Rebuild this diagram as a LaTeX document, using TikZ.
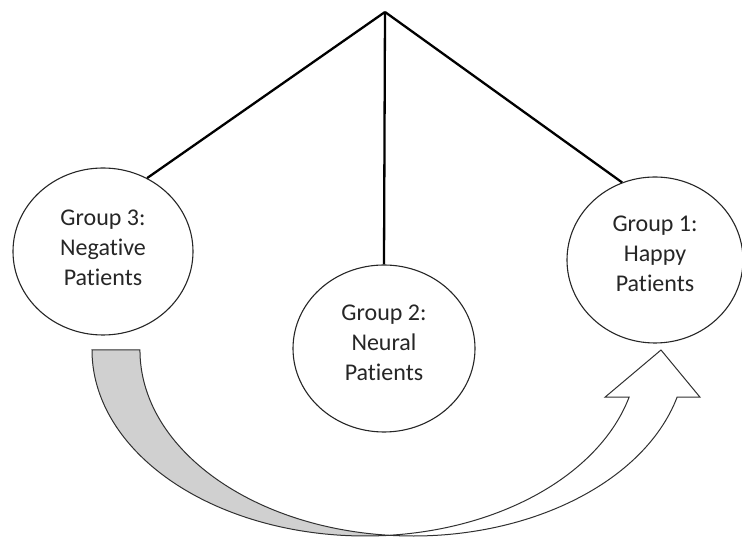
\documentclass[tikz,border=0pt]{standalone}
\usepackage{fontspec}
\setmainfont{Carlito}[Ligatures=NoCommon]
\usetikzlibrary{shapes.geometric}
\definecolor{bandgray}{HTML}{D0D0D0}
\definecolor{edge}{HTML}{303030}
\begin{document}
\begin{tikzpicture}[x=1pt,y=1pt,
  grp/.style={ellipse, draw=black!85, line width=1.1pt, fill=white, inner sep=0pt},
  lbl/.style={font=\fontsize{24}{30}\selectfont, align=center, text=black!85},
  stem/.style={line width=2.3pt, black},
  band/.style={draw=edge, line width=1pt, line join=miter}]
\useasboundingbox (0,0) rectangle (742,538);
\coordinate (apex) at (385,526);
\node[grp, minimum width=180pt, minimum height=167pt,
  label={[lbl,yshift=4pt]center:{Group 3:\\Negative\\Patients}}] (g3) at (103,286.5) {};
\node[grp, minimum width=182pt, minimum height=167pt,
  label={[lbl,yshift=6pt]center:{Group 2:\\Neural\\Patients}}] (g2) at (384,189.5) {};
\node[grp, minimum width=176pt, minimum height=166pt,
  label={[lbl,yshift=6pt]center:{Group 1:\\Happy\\Patients}}] (g1) at (655,278) {};
\draw[stem] (apex) -- (g3.59);
\draw[stem] (apex) -- (g2.north);
\draw[stem] (apex) -- (g1.113);
% curved up arrow
\draw[band, fill=bandgray] (92,188)
  arc[start angle=180, end angle=275.04, x radius=273, y radius=186]
  arc[start angle=264.96, end angle=180, x radius=273, y radius=186]
  -- cycle;
\draw[band, fill=white] (389,2.7)
  arc[start angle=275.04, end angle=345.3, x radius=273, y radius=186]
  -- (605,140.8) -- (661,188) -- (700,140.8) -- (677.1,140.8)
  arc[start angle=345.3, end angle=264.96, x radius=273, y radius=186]
  -- cycle;
\end{tikzpicture}
\end{document}
